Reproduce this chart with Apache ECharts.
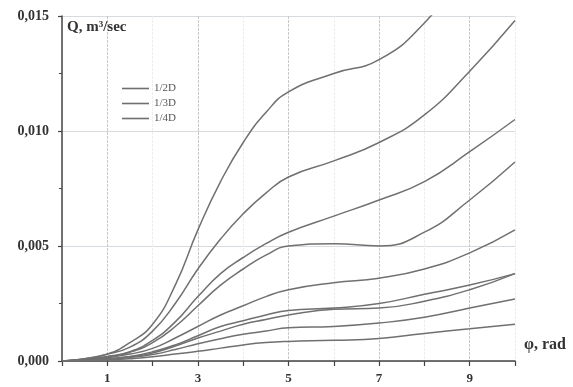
<!DOCTYPE html>
<html>
<head>
<meta charset="utf-8">
<script src="https://cdn.jsdelivr.net/npm/echarts@6/dist/echarts.min.js"></script>
<style>html,body{margin:0;padding:0;background:#fff;}#c{width:573px;height:387px;}</style>
</head>
<body>
<div id="c"></div>
<script>
const phi = [0, 0.5, 1, 1.5, 2, 2.5, 3, 3.5, 4, 4.5, 5, 6, 7, 8, 9, 10];
const seriesNames = ['1/2D', '1/3D', '1/4D'];
const c1 = [0, 0.0001, 0.0003, 0.0008, 0.0016, 0.0033, 0.0057, 0.0078, 0.0095, 0.0108, 0.0117, 0.0125, 0.0131, 0.0147, 0.0172, 0.0195];
const c2 = [0, 0.0001, 0.0003, 0.0006, 0.0013, 0.0025, 0.0040, 0.0053, 0.0064, 0.0073, 0.0080, 0.0087, 0.0095, 0.0107, 0.0126, 0.0148];
const c3 = [0, 0.00007, 0.0002, 0.0004, 0.0009, 0.0017, 0.0028, 0.0038, 0.0045, 0.0051, 0.0056, 0.0063, 0.0070, 0.0078, 0.0091, 0.0105];
const c4 = [0, 0.00006, 0.00018, 0.00038, 0.0008, 0.0015, 0.0024, 0.0033, 0.0040, 0.0046, 0.0050, 0.0051, 0.0050, 0.0056, 0.0070, 0.00865];
const c5 = [0, 0.00005, 0.00015, 0.0003, 0.00055, 0.0010, 0.0015, 0.0020, 0.0024, 0.0028, 0.0031, 0.0034, 0.0036, 0.0040, 0.0047, 0.0057];
const c6 = [0, 0.00004, 0.0001, 0.0002, 0.0004, 0.0007, 0.0011, 0.0015, 0.00175, 0.0020, 0.0022, 0.0023, 0.0025, 0.0029, 0.0033, 0.0038];
const c7 = [0, 0.00004, 0.0001, 0.00018, 0.00035, 0.00065, 0.0010, 0.0013, 0.0016, 0.0018, 0.0020, 0.00225, 0.0023, 0.0026, 0.0031, 0.0038];
const c8 = [0, 0.00003, 0.00008, 0.00015, 0.00028, 0.0005, 0.00075, 0.00097, 0.00116, 0.0013, 0.00145, 0.0015, 0.00165, 0.0019, 0.0023, 0.0027];
const c9 = [0, 0.00002, 0.00005, 0.0001, 0.00018, 0.0003, 0.00042, 0.00056, 0.0007, 0.0008, 0.00085, 0.0009, 0.00098, 0.0012, 0.0014, 0.0016];
const xTickLabels = ['', '1', '', '3', '', '5', '', '7', '', '9', ''];

const curves = [
  {name: seriesNames[0], data: c1},
  {name: seriesNames[0], data: c2},
  {name: seriesNames[0], data: c3},
  {name: seriesNames[1], data: c4},
  {name: seriesNames[1], data: c5},
  {name: seriesNames[1], data: c6},
  {name: seriesNames[2], data: c7},
  {name: seriesNames[2], data: c8},
  {name: seriesNames[2], data: c9}
];

const serif = 'Liberation Serif, Times New Roman, serif';
const chart = echarts.init(document.getElementById('c'), null, {renderer: 'canvas'});
chart.setOption({
  backgroundColor: '#ffffff',
  animation: false,
  grid: {left: 62, right: 58, top: 16, bottom: 26, containLabel: false},
  legend: {
    data: seriesNames.map(n => ({name: n, icon: 'path://M0,0H100V6H0Z'})),
    orient: 'vertical',
    left: 117,
    top: 78,
    itemWidth: 27,
    itemHeight: 2,
    itemGap: 4,
    textStyle: {fontFamily: serif, fontSize: 11, color: '#555'}
  },
  xAxis: {
    type: 'value',
    min: 0, max: 10, interval: 1,
    name: 'φ, rad',
    nameLocation: 'end',
    nameGap: 9,
    nameTextStyle: {fontFamily: serif, fontWeight: 'bold', fontSize: 16, color: '#333', align: 'left', verticalAlign: 'bottom', padding: [0, 0, 8, 0]},
    axisLine: {lineStyle: {color: '#444', width: 1.5}},
    axisTick: {show: true, length: 5, lineStyle: {color: '#444', width: 1.2}},
    axisLabel: {margin: 11, fontFamily: serif, fontWeight: 'bold', fontSize: 13, color: '#333',
      formatter: (v) => xTickLabels[Math.round(v)] || ''},
    splitLine: {show: true, lineStyle: {color: ['#eeeeee', '#c9c9c9'], width: 1, type: [3, 1]}}
  },
  yAxis: {
    type: 'value',
    min: 0, max: 0.015, interval: 0.005,
    name: 'Q, m³/sec',
    nameLocation: 'end',
    nameGap: -19,
    nameTextStyle: {fontFamily: serif, fontWeight: 'bold', fontSize: 15, color: '#333', align: 'left', padding: [0, 0, 0, 5]},
    axisLine: {show: true, lineStyle: {color: '#444', width: 1.5}},
    axisTick: {show: true, length: 4, lineStyle: {color: '#444', width: 1.2}},
    minorTick: {show: true, splitNumber: 2, length: 3, lineStyle: {color: '#444'}},
    axisLabel: {margin: 13, fontFamily: serif, fontWeight: 'bold', fontSize: 14, color: '#333',
      formatter: (v) => v.toFixed(3).replace('.', ',')},
    splitLine: {show: true, lineStyle: {color: '#d6dbe0', width: 1}}
  },
  series: curves.map((c) => ({
    type: 'line',
    name: c.name,
    data: phi.map((x, j) => [x, c.data[j]]),
    smooth: 0.5,
    symbol: 'none',
    clip: true,
    color: '#707070',
    lineStyle: {width: 1.5, color: '#707070'},
    itemStyle: {color: '#707070'}
  }))
});
</script>
</body>
</html>
